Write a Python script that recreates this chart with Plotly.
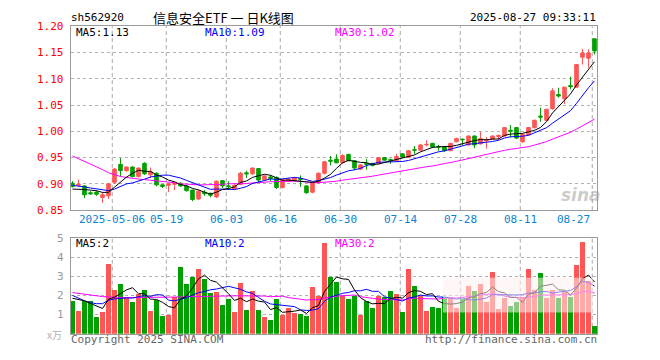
import plotly.graph_objects as go

# ---------------- data ----------------
opens = [.901,.897,.896,.883,.884,.874,.877,.903,.937,.925,
         .932,.914,.939,.917,.920,.898,.897,.899,.901,.896,
         .888,.871,.884,.882,.875,.906,.896,.890,.899,.921,
         .919,.929,.908,.913,.912,.893,.905,.907,.910,.896,
         .884,.902,.920,.945,.947,.940,.956,.944,.928,.939,
         .939,.939,.950,.946,.944,.957,.950,.965,.964,.974,
         .977,.971,.970,.963,.980,.985,.974,.991,.976,.982,
         .985,.990,.991,1.002,1.007,.980,.993,1.007,1.029,1.021,
         1.043,1.070,1.062,1.087,1.084,1.141,1.139,1.176]
highs = [.905,.908,.897,.886,.887,.884,.901,.930,.949,.933,
         .933,.931,.941,.931,.922,.899,.901,.904,.903,.897,
         .889,.889,.888,.883,.906,.907,.905,.899,.923,.925,
         .931,.930,.917,.917,.914,.910,.911,.912,.916,.897,
         .903,.922,.943,.953,.956,.956,.957,.945,.937,.947,
         .940,.951,.951,.948,.957,.958,.964,.972,.976,.983,
         .978,.974,.971,.978,.988,.986,.992,.992,.999,.989,
         .992,.994,1.008,1.012,1.008,.996,1.008,1.022,1.045,1.043,
         1.082,1.083,1.085,1.104,1.128,1.157,1.156,1.177]
lows = [.893,.895,.873,.879,.877,.864,.871,.900,.914,.923,
        .912,.912,.917,.911,.895,.892,.884,.888,.894,.885,
        .867,.869,.877,.874,.873,.892,.888,.889,.897,.911,
        .917,.903,.905,.905,.890,.891,.903,.904,.894,.881,
        .882,.900,.918,.935,.939,.938,.943,.926,.926,.927,
        .933,.937,.944,.938,.942,.950,.949,.957,.962,.971,
        .968,.963,.961,.962,.979,.974,.973,.968,.975,.967,
        .984,.983,.990,.988,.985,.978,.992,1.005,1.018,1.019,
        1.041,1.064,1.052,1.080,1.083,1.127,1.121,1.146]
closes = [.895,.899,.879,.881,.880,.879,.900,.928,.925,.932,
          .914,.930,.919,.923,.898,.895,.900,.903,.896,.887,
          .870,.886,.881,.878,.905,.896,.895,.897,.920,.919,
          .930,.907,.915,.910,.893,.908,.909,.911,.908,.883,
          .902,.920,.942,.943,.940,.954,.944,.930,.936,.937,
          .935,.950,.945,.945,.952,.951,.963,.964,.974,.975,
          .970,.970,.963,.977,.986,.984,.991,.974,.986,.984,
          .991,.992,1.007,1.000,.987,.994,1.007,1.021,1.027,1.042,
          1.077,1.067,1.084,1.085,1.127,1.149,1.149,1.153]
volumes = [1.73,1.21,1.71,1.71,0.86,1.11,3.62,2.26,2.62,1.85,
           1.66,2.06,2.26,1.21,1.76,0.91,0.97,1.90,3.47,2.62,
           2.97,3.37,2.87,2.11,2.16,1.51,1.81,1.11,2.67,1.26,
           2.21,1.26,0.86,0.70,1.81,0.96,1.36,1.06,1.01,0.91,
           2.42,1.96,4.73,2.97,2.72,1.96,1.81,1.96,0.96,1.71,
           1.36,1.96,1.91,2.21,2.06,1.16,3.37,2.47,2.01,1.21,
           1.41,1.36,1.90,1.85,1.35,1.80,2.47,2.22,2.59,1.68,
           3.23,1.30,1.85,1.43,1.68,1.94,3.38,2.27,3.18,1.85,
           2.30,1.85,2.19,1.94,3.60,4.80,2.78,0.40]

# moving-average values at the start of the window
ma5_head = [0.890, 0.890, 0.889, 0.888]
ma10_head = [0.897, 0.896, 0.894, 0.892, 0.890, 0.888, 0.887, 0.890, 0.895]
ma30_head = [0.953, 0.948, 0.943, 0.937, 0.932, 0.927, 0.921, 0.917, 0.914, 0.912,
             0.910, 0.909, 0.908, 0.907, 0.906, 0.905, 0.904, 0.902, 0.900, 0.899,
             0.898, 0.898, 0.898, 0.898, 0.899, 0.899, 0.900, 0.900, 0.901]
vma5_head = [1.85, 1.80, 1.72, 1.58]
vma10_head = [2.00, 1.85, 1.72, 1.62, 1.57, 1.57, 1.75, 1.82, 1.85]
vma30_head = [2.15, 2.10, 2.05, 2.01, 1.97, 1.94, 1.92, 1.90, 1.89, 1.89,
              1.89, 1.89, 1.89, 1.89, 1.89, 1.90, 1.90, 1.91, 1.92, 1.93,
              1.94, 1.95, 1.96, 1.96, 1.97, 1.97, 1.98, 1.98, 1.98]

date_labels = ["2025-05-06", "05-19", "06-03", "06-16", "06-30",
               "07-14", "07-28", "08-11", "08-27"]
date_label_idx = [7, 16, 26, 35, 45, 55, 65, 75, 87]
price_ticks = [0.85, 0.90, 0.95, 1.00, 1.05, 1.10, 1.15, 1.20]
volume_ticks = [1, 2, 3, 4, 5]

# ---------------- helpers ----------------
n = len(closes)
xs = list(range(n))


def moving_avg(vals, k, head):
    out = list(head)
    for i in range(k - 1, len(vals)):
        out.append(sum(vals[i - k + 1:i + 1]) / k)
    return out


def trunc2(v):
    return int(v * 100) / 100


ma5 = moving_avg(closes, 5, ma5_head)
ma10 = moving_avg(closes, 10, ma10_head)
ma30 = moving_avg(closes, 30, ma30_head)
vma5 = moving_avg(volumes, 5, vma5_head)
vma10 = moving_avg(volumes, 10, vma10_head)
vma30 = moving_avg(volumes, 30, vma30_head)

W, H = 660, 360
RED = "#ff5555"
GREEN = "#00a000"
MONO = "DejaVu Sans Mono"


def px(x):
    return x / W


def py(y):
    return 1 - y / H


fig = go.Figure()

fig.add_trace(go.Candlestick(
    x=xs, open=opens, high=highs, low=lows, close=closes,
    increasing=dict(line=dict(color=RED, width=1), fillcolor=RED),
    decreasing=dict(line=dict(color=GREEN, width=1), fillcolor=GREEN),
    whiskerwidth=0, xaxis="x", yaxis="y", showlegend=False, hoverinfo="skip"))

for vals, col in [(ma30, "#ff00ff"), (ma10, "#0000ff"), (ma5, "#000000")]:
    fig.add_trace(go.Scatter(x=xs, y=vals, mode="lines", line=dict(color=col, width=1),
                             xaxis="x", yaxis="y", showlegend=False, hoverinfo="skip"))

bar_colors = [RED if c > o else GREEN for o, c in zip(opens, closes)]
fig.add_trace(go.Bar(x=xs, y=volumes, width=0.83, marker=dict(color=bar_colors, line=dict(width=0)),
                     xaxis="x2", yaxis="y2", showlegend=False, hoverinfo="skip"))
for vals, col in [(vma30, "#ff00ff"), (vma10, "#0000ff"), (vma5, "#000000")]:
    fig.add_trace(go.Scatter(x=xs, y=vals, mode="lines", line=dict(color=col, width=1),
                             xaxis="x2", yaxis="y2", showlegend=False, hoverinfo="skip"))

xrange = [-0.3, n - 0.53]
xdom = [px(70.7), px(597.3)]
frame = "#9a9a9a"

fig.update_layout(
    width=W, height=H, margin=dict(l=0, r=0, t=0, b=0),
    paper_bgcolor="white", plot_bgcolor="white",
    font=dict(family=MONO, size=10, color="#000"),
    boxgap=0.15, bargap=0, hovermode=False,
    xaxis=dict(domain=xdom, range=xrange, anchor="y", showgrid=False, zeroline=False,
               showticklabels=False, showline=True, mirror=True, linecolor=frame, linewidth=1,
               rangeslider=dict(visible=False), fixedrange=True),
    yaxis=dict(domain=[py(211.7), py(21)], range=[0.85, 1.20], anchor="x",
               tickvals=price_ticks, ticktext=[f"{v:.2f}" for v in price_ticks],
               tickfont=dict(color="#ff0000", size=11, family=MONO), ticks="",
               ticklabelstandoff=4,
               showgrid=True, gridcolor="#b0b0b0", griddash="dot", gridwidth=1,
               zeroline=False, showline=True, mirror=True, linecolor=frame, linewidth=1),
    xaxis2=dict(domain=xdom, range=xrange, anchor="y2", showgrid=False, zeroline=False,
                showticklabels=False, showline=True, mirror=True, linecolor=frame, linewidth=1),
    yaxis2=dict(domain=[py(340), py(240.7)], range=[0, 5], anchor="x2",
                tickvals=volume_ticks, ticktext=[str(v) for v in volume_ticks],
                tickfont=dict(color="#999999", size=11, family=MONO), ticks="",
                ticklabelstandoff=4,
                showgrid=True, gridcolor="#b0b0b0", griddash="dot", gridwidth=1,
                zeroline=False, showline=True, mirror=True, linecolor=frame, linewidth=1),
)

# vertical dashed grid lines at labelled dates
shapes = []
for i in date_label_idx:
    for xr, yr in [("x", "y domain"), ("x2", "y2 domain")]:
        shapes.append(dict(type="line", xref=xr, yref=yr, x0=i - 0.37, x1=i - 0.37, y0=0, y1=1,
                           line=dict(color="#a8a8a8", width=1, dash="4px,3px"), layer="below"))
# faded watermark band in volume panel
shapes.append(dict(type="rect", xref="paper", yref="paper", x0=px(443), x1=px(593),
                   y0=py(318), y1=py(282), fillcolor="rgba(255,238,238,0.55)",
                   line=dict(width=0), layer="above"))
fig.update_layout(shapes=shapes)

ann = []


def text(x, y, s, color="#000", size=10, xanchor="left", family=MONO, **kw):
    ann.append(dict(x=px(x), y=py(y), xref="paper", yref="paper", text=s, showarrow=False,
                    xanchor=xanchor, yanchor="middle", borderpad=0,
                    font=dict(color=color, size=size, family=family, **kw)))


# header
text(69.5, 12, "sh562920", "#000", 11)
text(223.5, 12, "信息安全ETF 一 日K线图", "#000", 13, xanchor="center", family="Noto Sans CJK SC")
text(597, 12, "2025-08-27 09:33:11", "#000", 11, xanchor="right")
# MA labels (price)
text(75, 27.5, f"MA5:{trunc2(ma5[-1]):.2f}", "#000", 11)
text(204, 27.5, f"MA10:{trunc2(ma10[-1]):.2f}", "#0000ff", 11)
text(334, 27.5, f"MA30:{trunc2(ma30[-1]):.2f}", "#ff00ff", 11)
# MA labels (volume)
text(75, 246.5, f"MA5:{int(vma5[-1])}", "#000", 11)
text(204, 246.5, f"MA10:{int(vma10[-1])}", "#0000ff", 11)
text(334, 246.5, f"MA30:{int(vma30[-1])}", "#ff00ff", 11)

# date labels under price panel
for k, (lab, i) in enumerate(zip(date_labels, date_label_idx)):
    last = k == len(date_labels) - 1
    ann.append(dict(x=i - 0.37 - (0.2 if last else 0), y=py(221.5), xref="x", yref="paper",
                    text=lab, showarrow=False, xanchor="right" if last else "center",
                    yanchor="middle", borderpad=0,
                    font=dict(color="#0a84d2", size=11, family=MONO)))

# footer
text(70, 346.5, "Copyright 2025 SINA.COM", "#666666", 11)
text(597.5, 346.5, "http://finance.sina.com.cn", "#666666", 11, xanchor="right")
text(63, 341, "x万", "#b0b0b0", 10, xanchor="right", family="Noto Sans CJK SC")
# sina watermark in price panel
text(581, 196, "<b><i>sina</i></b>", "rgba(160,160,160,0.55)", 17, xanchor="center",
     family="DejaVu Sans")

fig.update_layout(annotations=ann)

page_css = ("document.documentElement.style.margin='0';"
            "document.documentElement.style.overflow='hidden';"
            "document.body.style.margin='0';"
            "document.body.style.overflow='hidden';")
fig.write_html("out.html", config={"displayModeBar": False, "staticPlot": True},
               post_script=page_css)
